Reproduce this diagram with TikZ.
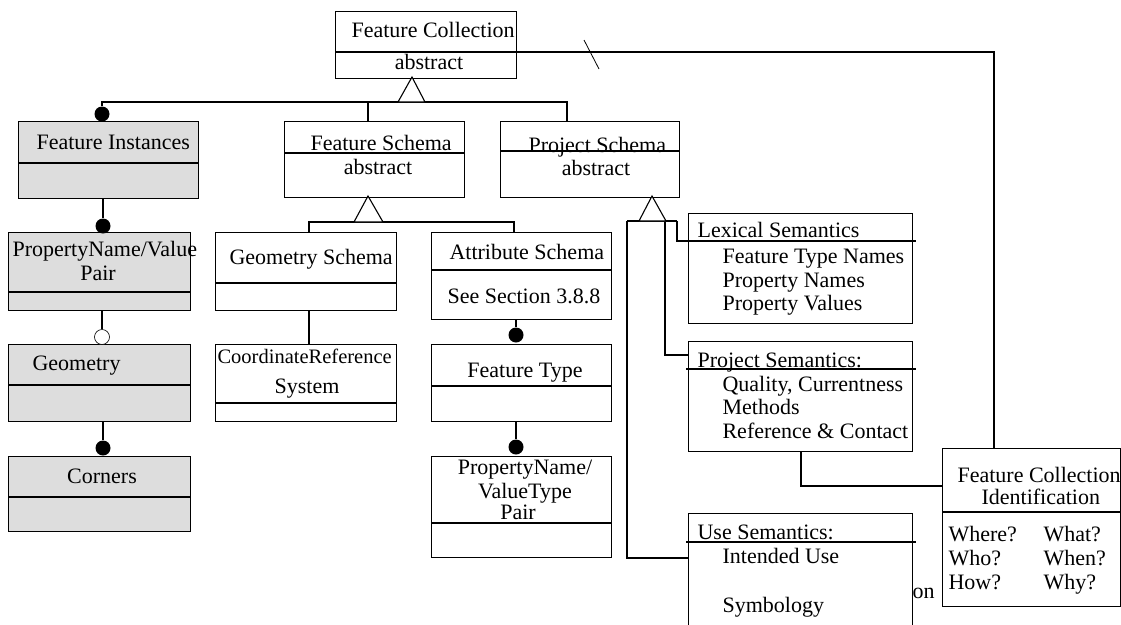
\documentclass[tikz,border=0pt]{standalone}
\usepackage{fontspec}
\setmainfont{Liberation Serif}
\usetikzlibrary{positioning}
\definecolor{boxgray}{RGB}{221,221,221}

\begin{document}
\begin{tikzpicture}[x=1pt,y=-1pt,line width=1.1pt,font=\fontsize{22}{24}\selectfont]
\tikzset{cls/.style ={draw, rectangle, inner sep=0pt, anchor=north west},
  grey/.style ={cls, fill=boxgray},
  lbl/.style ={inner sep=0pt, anchor=base west},
  clbl/.style ={inner sep=0pt, anchor=base},
  dot/.style ={circle, fill=black, inner sep=0pt, minimum size=15pt},
  odot/.style ={circle, draw, line width=0.6pt, fill=white, inner sep=0pt, minimum size=15pt}}
\clip (0,0) rectangle (1121,624);
% classes
\node[cls, minimum width=181pt, minimum height=67pt] (fc) at (335,11) {};
\draw (fc.west |- 0,52) -- (fc.east |- 0,52);
\node[grey, minimum width=180pt, minimum height=77pt] (fi) at (18,121) {};
\draw (fi.west |- 0,163) -- (fi.east |- 0,163);
\node[cls, minimum width=180pt, minimum height=76pt] (fs) at (284,121) {};
\draw (fs.west |- 0,153) -- (fs.east |- 0,153);
\node[cls, minimum width=179pt, minimum height=76pt] (ps) at (500,121) {};
\draw (ps.west |- 0,151) -- (ps.east |- 0,151);
\node[grey, minimum width=182pt, minimum height=78pt] (pnv) at (8,232) {};
\draw (pnv.west |- 0,292) -- (pnv.east |- 0,292);
\node[grey, minimum width=182pt, minimum height=77pt] (geo) at (8,344) {};
\draw (geo.west |- 0,385) -- (geo.east |- 0,385);
\node[grey, minimum width=182pt, minimum height=75pt] (cor) at (8,456) {};
\draw (cor.west |- 0,497) -- (cor.east |- 0,497);
\node[cls, minimum width=181pt, minimum height=78pt] (gs) at (215,232) {};
\draw (gs.west |- 0,283) -- (gs.east |- 0,283);
\node[cls, minimum width=181pt, minimum height=77pt] (crs) at (215,344) {};
\draw (crs.west |- 0,403) -- (crs.east |- 0,403);
\node[cls, minimum width=180pt, minimum height=87pt] (as) at (431,232) {};
\draw (as.west |- 0,270) -- (as.east |- 0,270);
\node[cls, minimum width=180pt, minimum height=77pt] (ft) at (431,344) {};
\draw (ft.west |- 0,386) -- (ft.east |- 0,386);
\node[cls, minimum width=180pt, minimum height=101pt] (pnvt) at (431,456) {};
\draw (pnvt.west |- 0,523) -- (pnvt.east |- 0,523);
\node[cls, minimum width=224pt, minimum height=110pt] (lex) at (688,213) {};
\node[cls, minimum width=224pt, minimum height=110pt] (psem) at (688,341) {};
\node[cls, minimum width=224pt, minimum height=120pt] (use) at (688,513) {};
\node[cls, minimum width=178pt, minimum height=158pt] (fci) at (942,448) {};
\draw (fci.west |- 0,512) -- (fci.east |- 0,512);
% texts
\node[lbl] (fc-t) at (351,37) {Feature Collection};
\node[clbl] (fc-a) at (429,69) {abstract};
\node[lbl] (fi-t) at (36,149) {Feature Instances};
\node[lbl] (fs-t) at (310,150) {Feature Schema};
\node[clbl] (fs-a) at (378,174) {abstract};
\node[lbl] (ps-t) at (528,152) {Project Schema};
\node[clbl] (ps-a) at (596,175) {abstract};
\node[lbl] (pnv-t) at (12,256) {PropertyName/Value};
\node[clbl] (pnv-p) at (98,280) {Pair};
\node[lbl] (geo-t) at (32,370) {Geometry};
\node[clbl] (cor-t) at (102,483) {Corners};
\node[lbl] (gs-t) at (229,264) {Geometry Schema};
\node[lbl, font=\fontsize{20.5}{22}\selectfont] (crs-t) at (217,363) {CoordinateReference};
\node[clbl] (crs-s) at (307,393) {System};
\node[lbl] (as-t) at (449,259) {Attribute Schema};
\node[lbl] (as-s) at (447,303) {See Section 3.8.8};
\node[clbl] (ft-t) at (525,377) {Feature Type};
\node[clbl] (pnvt-a) at (525,474) {PropertyName/};
\node[clbl] (pnvt-b) at (525,498) {ValueType};
\node[clbl] (pnvt-c) at (518,519) {Pair};
\node[lbl] (lex-t) at (697,237) {Lexical Semantics};
\node[lbl] (lex-a) at (722,263) {Feature Type Names};
\node[lbl] (lex-b) at (722,287) {Property Names};
\node[lbl] (lex-c) at (722,310) {Property Values};
\node[lbl] (psem-t) at (697,367) {Project Semantics:};
\node[lbl] (psem-a) at (722,391) {Quality, Currentness};
\node[lbl] (psem-b) at (722,414) {Methods};
\node[lbl] (psem-c) at (722,438) {Reference \& Contact};
\node[lbl] (use-t) at (697,539) {Use Semantics:};
\node[lbl] (use-a) at (722,563) {Intended Use};
\node[lbl] (use-b) at (722,612) {Symbology};
\node[lbl] (use-on) at (912,598) {on};
\node[lbl] (fci-t) at (957,482) {Feature Collection};
\node[lbl] (fci-i) at (981,504) {Identification};
\node[lbl] (q1) at (948,541) {Where?};
\node[lbl] (q2) at (1043,541) {What?};
\node[lbl] (q3) at (948,565) {Who?};
\node[lbl] (q4) at (1043,565) {When?};
\node[lbl] (q5) at (948,589) {How?};
\node[lbl] (q6) at (1043,589) {Why?};
% aggregation dots
\node[dot] (d1) at (102,114) {};
\node[dot] (d2) at (103,226) {};
\node[odot] (d3) at (102,337) {};
\node[dot] (d4) at (103,448) {};
\node[dot] (d5) at (516,335) {};
\node[dot] (d6) at (516,447) {};
\draw (d2) -- (d2 |- fi.south);
\draw (d3) -- (d3 |- pnv.south);
\draw (d4) -- (d4 |- geo.south);
\draw (d5) -- (d5 |- as.south);
\draw (d6) -- (d6 |- ft.south);
% generalization: feature collection
\coordinate (t1) at (412,77);
\coordinate (b1) at (412,102);
\coordinate (fsin) at (368,121);
\coordinate (psin) at (567,121);
\draw (d1.north) |- (b1) -| (psin);
\draw (fsin) -- (fsin |- b1);
\draw[fill=white] (t1) -- ([xshift=-14pt]b1) -- ([xshift=13pt]b1) -- cycle;
% generalization: feature schema
\coordinate (t2) at (368,196);
\coordinate (b2) at (368,222);
\coordinate (gsin) at (309,232);
\coordinate (asin) at (514,232);
\draw (gsin) -- (gsin |- b2) -| (asin);
\draw[fill=white] (t2) -- ([xshift=-14pt]b2) -- ([xshift=15pt]b2) -- cycle;
\draw (gsin |- gs.south) -- (gsin |- crs.north);
% generalization: project schema
\coordinate (t3) at (652,196);
\coordinate (k1) at (627,221);
\coordinate (k2) at (665,221);
\coordinate (k3) at (677,221);
\coordinate (lexin) at (688,241);
\coordinate (psemin) at (688,355);
\coordinate (usein) at (688,558);
\draw (k1) -- (k3);
\draw (k1) |- (usein);
\draw (k2) |- (psemin);
\draw (k3) |- (lexin);
\draw (lexin) -- ([xshift=3pt]lex.east |- lexin);
\draw ([xshift=-2pt]psem.west |- 0,369) -- ([xshift=3pt]psem.east |- 0,369);
\draw ([xshift=-2pt]use.west |- 0,542) -- ([xshift=3pt]use.east |- 0,542);
\draw[fill=white] (t3) -- (639,221) -- (666,221) -- cycle;
% identification links
\coordinate (fcix) at (994,448);
\coordinate (pso) at (801,451);
\draw (fc.east |- 0,52) -| (fcix);
\draw[line width=0.8pt] (584,40) -- (599,69);
\draw (pso) |- (fci.west |- 0,486);
\end{tikzpicture}
\end{document}
